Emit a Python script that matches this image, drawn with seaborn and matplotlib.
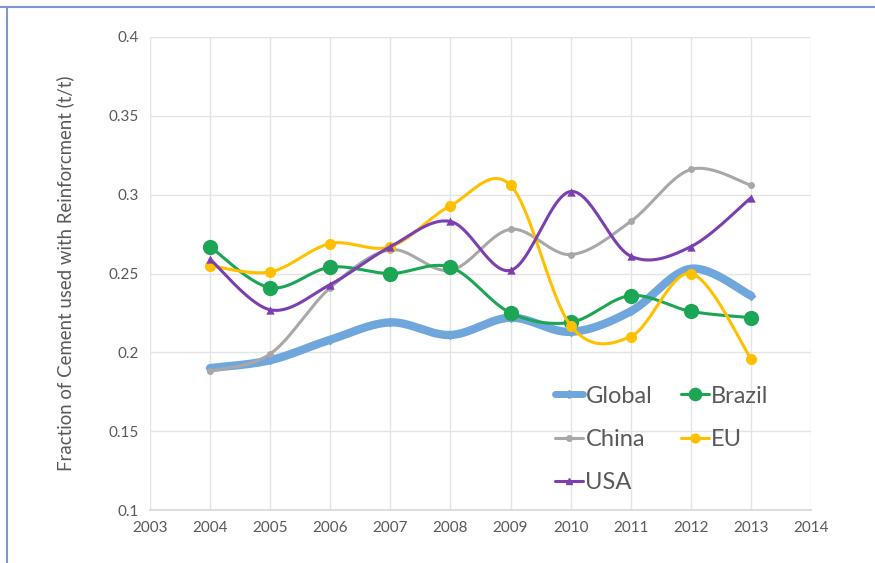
import numpy as np
import pandas as pd
import matplotlib
matplotlib.use("Agg")
import matplotlib.pyplot as plt
import seaborn as sns
from matplotlib.lines import Line2D

years = [2004, 2005, 2006, 2007, 2008, 2009, 2010, 2011, 2012, 2013]
global_vals = [0.190, 0.195, 0.208, 0.219, 0.211, 0.222, 0.213, 0.226, 0.253, 0.236]
brazil_vals = [0.267, 0.241, 0.254, 0.250, 0.254, 0.225, 0.219, 0.236, 0.226, 0.222]
china_vals = [0.188, 0.199, 0.241, 0.265, 0.252, 0.278, 0.262, 0.283, 0.316, 0.306]
eu_vals = [0.255, 0.251, 0.269, 0.267, 0.293, 0.306, 0.217, 0.210, 0.250, 0.196]
usa_vals = [0.259, 0.227, 0.243, 0.267, 0.283, 0.252, 0.302, 0.261, 0.267, 0.298]

series_names = ["Global", "Brazil", "China", "EU", "USA"]
x_ticks = list(range(2003, 2015))
y_ticks = [0.1, 0.15, 0.2, 0.25, 0.3, 0.35, 0.4]
y_label = "Fraction of Cement used with Reinforcment (t/t)"

sns.set_theme(style="white")
plt.rcParams['font.family'] = ['Lato', 'DejaVu Sans']


def smooth(xs, ys, n=30):
    # Excel-style smoothed line: cubic Bezier with Catmull-Rom control points
    xs = np.asarray(xs, float)
    ys = np.asarray(ys, float)
    P = np.column_stack([xs, ys])
    out = []
    for i in range(len(P) - 1):
        p0 = P[i - 1] if i > 0 else P[i]
        p1 = P[i]
        p2 = P[i + 1]
        p3 = P[i + 2] if i + 2 < len(P) else P[i + 1]
        c1 = p1 + (p2 - p0) / 6.0
        c2 = p2 - (p3 - p1) / 6.0
        t = np.linspace(0, 1, n, endpoint=(i == len(P) - 2))[:, None]
        b = ((1 - t) ** 3) * p1 + 3 * ((1 - t) ** 2) * t * c1 + 3 * (1 - t) * t ** 2 * c2 + t ** 3 * p2
        out.append(b)
    out = np.vstack(out)
    return out[:, 0], out[:, 1]


styles = {
    "Global": dict(color="#6FA6DC", lw=6.0, marker="D", ms=5, zorder=2),
    "Brazil": dict(color="#1BA555", lw=2.2, marker="o", ms=11, zorder=4),
    "China": dict(color="#A8A8A8", lw=2.2, marker="o", ms=5, zorder=3),
    "EU": dict(color="#FFC000", lw=2.2, marker="o", ms=8, zorder=5),
    "USA": dict(color="#7B3FB0", lw=2.2, marker="^", ms=6, zorder=6),
}
values = {"Global": global_vals, "Brazil": brazil_vals, "China": china_vals,
          "EU": eu_vals, "USA": usa_vals}

fig = plt.figure(figsize=(8.75, 5.63), dpi=100)
ax = fig.add_axes([150 / 875, 1 - 510 / 563, (811 - 150) / 875, (510 - 37) / 563])

for name in series_names:
    st = styles[name]
    sx, sy = smooth(years, values[name])
    dense = pd.DataFrame({"x": sx, "y": sy})
    sns.lineplot(data=dense, x="x", y="y", ax=ax, color=st["color"], lw=st["lw"],
                 sort=False, estimator=None, zorder=st["zorder"])
    pts = pd.DataFrame({"x": years, "y": values[name]})
    sns.scatterplot(data=pts, x="x", y="y", ax=ax, color=st["color"], marker=st["marker"],
                    s=st["ms"] ** 2, edgecolor=st["color"], linewidth=0, zorder=st["zorder"] + 0.5)

ax.set_xlim(2003, 2014)
ax.set_ylim(0.1, 0.4)
ax.set_xticks(x_ticks)
ax.set_xticklabels([str(v) for v in x_ticks])
ax.set_yticks(y_ticks)
ax.set_yticklabels([f"{v:g}" for v in y_ticks])
ax.grid(True, color="#E4E4E4", lw=1.0)
ax.set_axisbelow(True)
for s in ["top", "right", "left"]:
    ax.spines[s].set_visible(False)
ax.spines["bottom"].set_color("#D9D9D9")
ax.tick_params(axis="both", colors="#595959", labelsize=11, length=0, pad=8)
ax.set_xlabel("")
ax.set_ylabel(y_label, fontsize=13.4, color="#595959", labelpad=25)

handles = [Line2D([0], [0], color=styles[n]["color"], lw=styles[n]["lw"] if n != "Global" else 5,
                  marker=styles[n]["marker"], ms=styles[n]["ms"] * 0.8) for n in series_names]
order = ["Global", "China", "USA", "Brazil", "EU"]
hmap = dict(zip(series_names, handles))
leg = ax.legend([hmap[n] for n in order], order, ncol=2, loc="upper left",
                bbox_to_anchor=(0.598, 0.283), frameon=False, fontsize=17,
                handlelength=1.2, handletextpad=0.1, columnspacing=1.2, labelspacing=0.95,
                labelcolor="#595959", borderaxespad=0)

# figure frame lines (top and left)
fig.add_artist(Line2D([0, 1], [1 - 7 / 563, 1 - 7 / 563], transform=fig.transFigure,
                      color="#8096CF", lw=1.5))
fig.add_artist(Line2D([7 / 875, 7 / 875], [0, 1 - 7 / 563], transform=fig.transFigure,
                      color="#8096CF", lw=1.5))

fig.savefig("out.png", dpi=100)
